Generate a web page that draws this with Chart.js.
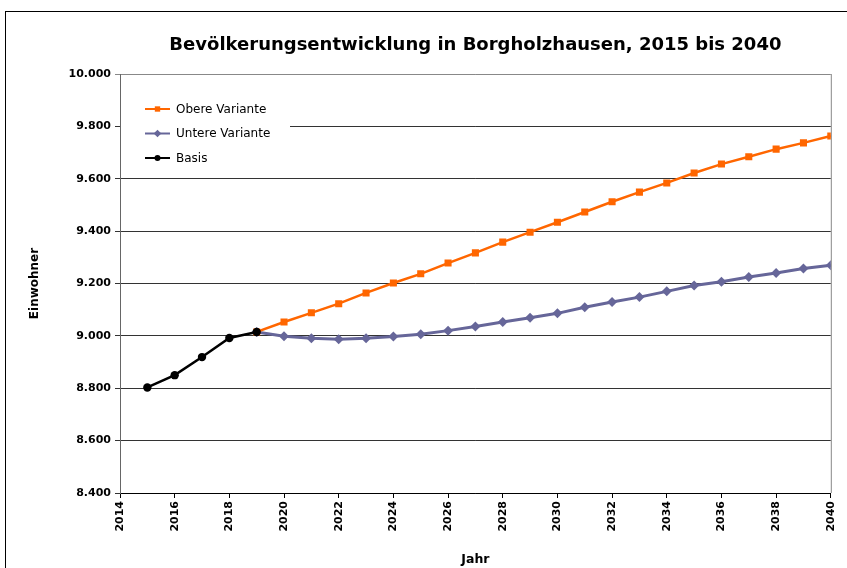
<!DOCTYPE html>
<html>
<head>
<meta charset="utf-8">
<script src="https://cdn.jsdelivr.net/npm/chart.js@4.4.1/dist/chart.umd.min.js"></script>
<style>
  html, body { margin: 0; padding: 0; background: #fff; }
  #wrap { position: relative; width: 847px; height: 568px; overflow: hidden; }
  #frame { position: absolute; left: 5px; top: 11px; width: 900px; height: 600px; border-left: 1px solid #000; border-top: 1px solid #000; }
  canvas { position: absolute; left: 0; top: 0; }
</style>
</head>
<body>
<div id="wrap">
  <div id="frame"></div>
  <canvas id="lineChart" width="847" height="568"></canvas>
</div>
<script>
// Einwohner Borgholzhausen
const basisYears = [2015, 2016, 2017, 2018, 2019];
const basisValues = [8803, 8850, 8919, 8992, 9015];

const variantYears = [2019, 2020, 2021, 2022, 2023, 2024, 2025, 2026, 2027, 2028, 2029,
  2030, 2031, 2032, 2033, 2034, 2035, 2036, 2037, 2038, 2039, 2040];
const obereValues = [9015, 9053, 9088, 9123, 9164, 9202, 9237, 9278, 9317, 9358, 9396,
  9434, 9473, 9512, 9549, 9584, 9622, 9656, 9684, 9713, 9737, 9763];
const untereValues = [9015, 8999, 8991, 8987, 8991, 8998, 9006, 9020, 9036, 9053, 9069,
  9086, 9109, 9129, 9148, 9170, 9192, 9207, 9225, 9240, 9257, 9270];

const yTicks = [8400, 8600, 8800, 9000, 9200, 9400, 9600, 9800, 10000];
const xTicks = [2014, 2016, 2018, 2020, 2022, 2024, 2026, 2028, 2030, 2032, 2034, 2036, 2038, 2040];

const toPoints = (xs, ys) => xs.map((x, i) => ({ x: x, y: ys[i] }));
const dePunkt = v => String(v).replace(/\B(?=(\d{3})+(?!\d))/g, '.');

Chart.defaults.font.family = 'DejaVu Sans';
Chart.defaults.color = '#000';

const ctx = document.getElementById('lineChart').getContext('2d');

// Rahmen rechts + Legende im Diagramm (wie Excel)
const legendInside = {
  id: 'legendInside',
  beforeDatasetsDraw(chart) {
    const { ctx, chartArea: a } = chart;
    ctx.save();
    ctx.strokeStyle = '#888';
    ctx.lineWidth = 1;
    ctx.beginPath();
    ctx.moveTo(a.right + 0.5, a.top);
    ctx.lineTo(a.right + 0.5, a.bottom);
    ctx.stroke();

    ctx.fillStyle = '#fff';
    ctx.fillRect(a.left + 1, 92, 169, 80);

    [0, 1, 2].forEach((di, i) => {
      const ds = chart.data.datasets[di];
      const y = 109 + i * 24.5;
      ctx.strokeStyle = ds.borderColor;
      ctx.lineWidth = 2;
      ctx.beginPath();
      ctx.moveTo(145, y);
      ctx.lineTo(170, y);
      ctx.stroke();
      ctx.fillStyle = ds.borderColor;
      Chart.helpers.drawPoint(ctx, { pointStyle: ds.pointStyle, radius: ds.pointRadius - 1.2, rotation: 0, borderWidth: 0 }, 157.5, y);
      ctx.fillStyle = '#000';
      ctx.font = '12px "DejaVu Sans"';
      ctx.textBaseline = 'middle';
      ctx.textAlign = 'left';
      ctx.fillText(ds.label, 176, y + 0.5);
    });
    ctx.restore();
  }
};

new Chart(ctx, {
  type: 'line',
  data: {
    datasets: [
      {
        label: 'Obere Variante',
        data: toPoints(variantYears, obereValues),
        borderColor: '#FF6600',
        backgroundColor: '#FF6600',
        borderWidth: 2.5,
        pointStyle: 'rect',
        pointRadius: 5,
        pointBorderWidth: 0,
        order: 1
      },
      {
        label: 'Untere Variante',
        data: toPoints(variantYears, untereValues),
        borderColor: '#666699',
        backgroundColor: '#666699',
        borderWidth: 3,
        pointStyle: 'rectRot',
        pointRadius: 5,
        pointBorderWidth: 0,
        order: 2
      },
      {
        label: 'Basis',
        data: toPoints(basisYears, basisValues),
        borderColor: '#000000',
        backgroundColor: '#000000',
        borderWidth: 2.5,
        pointStyle: 'circle',
        pointRadius: 4.2,
        pointBorderWidth: 0,
        order: 0
      }
    ]
  },
  options: {
    responsive: false,
    animation: false,
    devicePixelRatio: 1,
    layout: { padding: { left: 0, right: 16, top: 0, bottom: 0 } },
    plugins: {
      legend: { display: false },
      tooltip: { enabled: false },
      title: {
        display: true,
        text: 'Bevölkerungsentwicklung in Borgholzhausen, 2015 bis 2040',
        fullSize: false,
        color: '#000',
        font: { size: 18, weight: 'bold' },
        padding: { top: 34.7, bottom: 17.7 }
      }
    },
    scales: {
      x: {
        type: 'linear',
        min: xTicks[0],
        max: xTicks[xTicks.length - 1],
        afterFit: s => { s.height = 75; },
        afterBuildTicks: s => { s.ticks = xTicks.map(v => ({ value: v })); },
        ticks: {
          autoSkip: false,
          minRotation: 90,
          maxRotation: 90,
          padding: 3,
          color: '#000',
          font: { size: 11, weight: 'bold' },
          callback: v => String(v)
        },
        grid: { drawOnChartArea: false, tickLength: 5, color: '#000' },
        border: { color: '#000', width: 1 },
        title: {
          display: true,
          text: 'Jahr',
          color: '#000',
          font: { size: 12.5, weight: 'bold' },
          padding: { top: 0, bottom: 1 }
        }
      },
      y: {
        min: yTicks[0],
        max: yTicks[yTicks.length - 1],
        afterFit: s => { s.width = 120; },
        afterBuildTicks: s => { s.ticks = yTicks.map(v => ({ value: v })); },
        ticks: {
          padding: 4,
          color: '#000',
          font: { size: 11, weight: 'bold' },
          callback: v => dePunkt(v)
        },
        grid: {
          tickLength: 5,
          lineWidth: 1,
          color: c => (c.tick && c.tick.value === 10000) ? '#888' : '#333'
        },
        border: { color: '#666', width: 1 },
        title: {
          display: true,
          text: 'Einwohner',
          color: '#000',
          font: { size: 12, weight: 'bold' },
          padding: { top: 28, bottom: 0 }
        }
      }
    }
  },
  plugins: [legendInside]
});
</script>
</body>
</html>
